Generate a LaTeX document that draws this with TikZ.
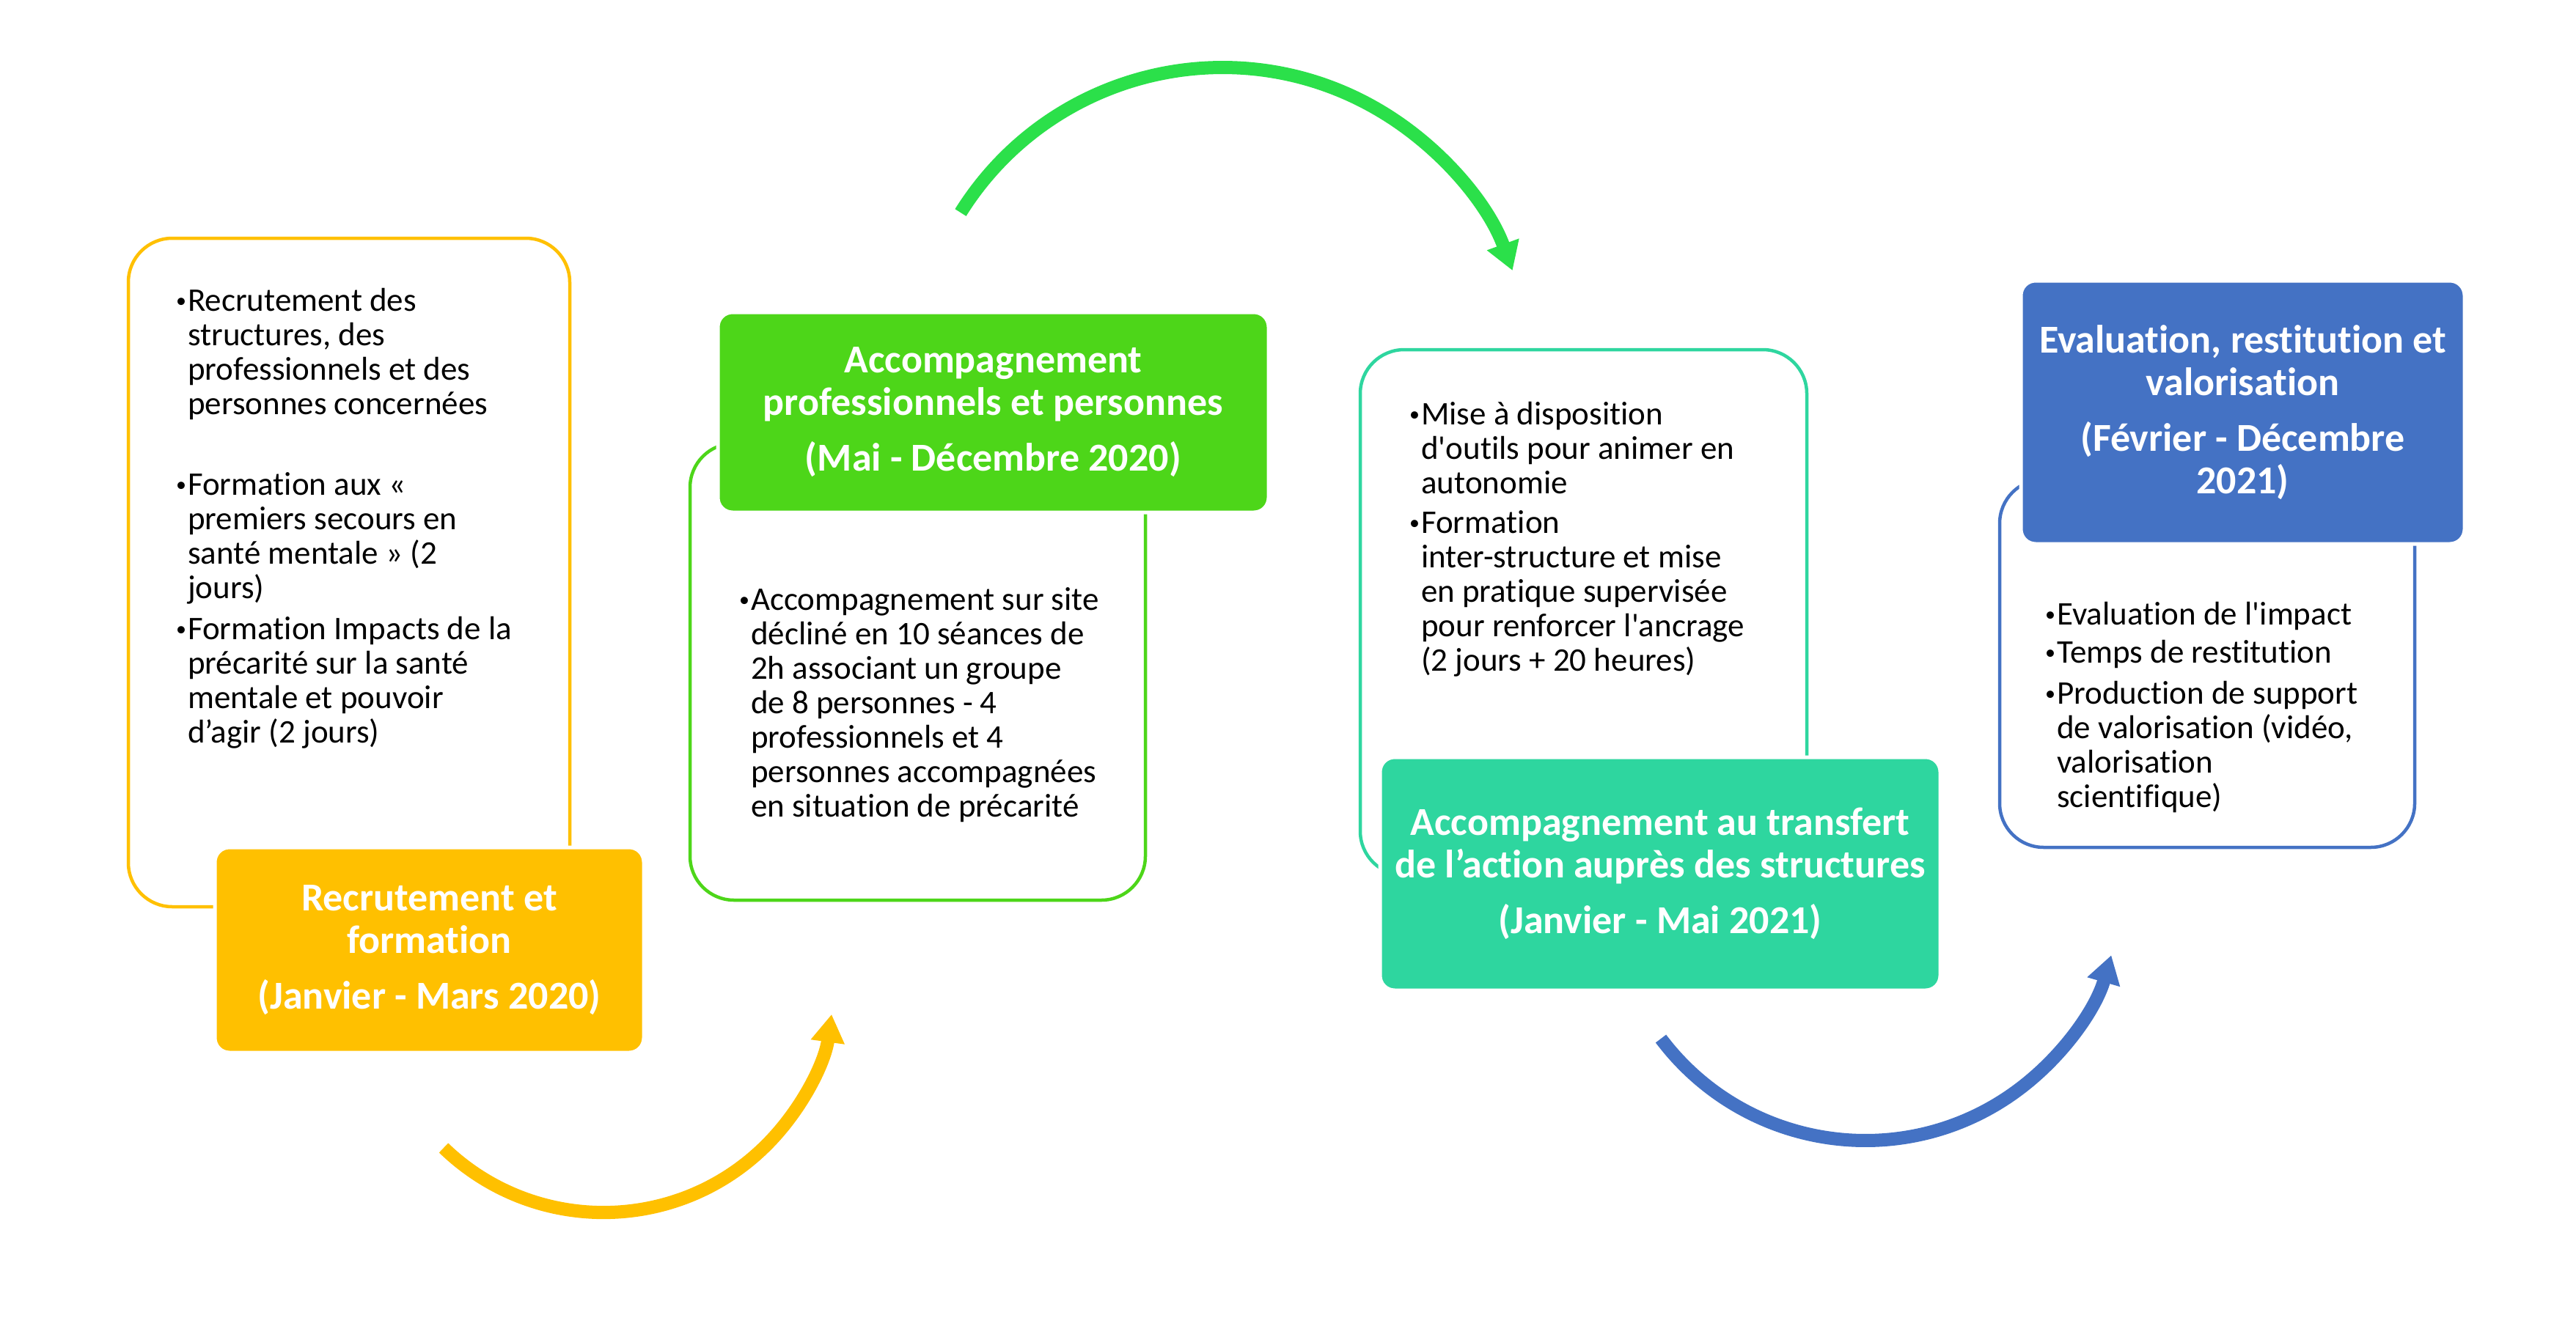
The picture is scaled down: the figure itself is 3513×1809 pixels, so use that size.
\documentclass[tikz,border=0pt]{standalone}
\usepackage{fontspec}
\setmainfont{Carlito}[Ligatures={TeXOff,NoCommon}]
\usetikzlibrary{arrows.meta}
\definecolor{cyel}{HTML}{FFC000}
\definecolor{cgrn}{HTML}{4DD619}
\definecolor{carr}{HTML}{2BE04A}
\definecolor{ctea}{HTML}{2ED69F}
\definecolor{cblu}{HTML}{4472C4}
\newcommand\bul{\raisebox{5pt}{\fontsize{28}{28}\selectfont•}\hspace{2pt}}
\newcommand\ind{\hphantom{\bul}}
\begin{document}
\begin{tikzpicture}[x=1pt,y=1pt,
  outbox/.style={draw=#1, line width=4.5pt, rounded corners=60pt, fill=white, inner sep=0pt},
  fillbox/.style={fill=#1, draw=white, line width=5pt, rounded corners=20pt, text=white,
    font=\fontsize{54}{58}\selectfont\bfseries, align=center, inner sep=0pt},
  bodytext/.style={anchor=north west, inner sep=0pt, align=left,
    font=\fontsize{45}{47}\selectfont, text=black},
  flow/.style={draw=#1, line width=18pt, -{Triangle[width=44pt,length=38pt]}}
]
\fill[white] (0,0) rectangle (3513,-1809);
\useasboundingbox (0,0) rectangle (3513,-1809);

% outline boxes
\node[outbox=cyel, minimum width=602pt, minimum height=912pt] (yo) at (476,-781) {};
\node[outbox=cgrn, minimum width=621pt, minimum height=623pt] (go) at (1251.5,-916.5) {};
\node[outbox=ctea, minimum width=609pt, minimum height=717pt] (to) at (2159.5,-835.5) {};
\node[outbox=cblu, minimum width=566pt, minimum height=502pt] (bo) at (3010,-905) {};

% body texts
\node[bodytext] (ytx) at (240,-393) {\bul Recrutement des\\
\ind structures, des\\
\ind professionnels et des\\
\ind personnes concernées\\[63pt]
\bul Formation aux «\\
\ind premiers secours en\\
\ind santé mentale » (2\\
\ind jours)\\[9pt]
\bul Formation Impacts de la\\
\ind précarité sur la santé\\
\ind mentale et pouvoir\\
\ind d’agir (2 jours)};

\node[bodytext] (gtx) at (1008,-801) {\bul Accompagnement sur site\\
\ind décliné en 10 séances de\\
\ind 2h associant un groupe\\
\ind de 8 personnes - 4\\
\ind professionnels et 4\\
\ind personnes accompagnées\\
\ind en situation de précarité};

\node[bodytext] (ttx) at (1922,-548) {\bul Mise à disposition\\
\ind d'outils pour animer en\\
\ind autonomie\\[7pt]
\bul Formation\\
\ind inter-structure et mise\\
\ind en pratique supervisée\\
\ind pour renforcer l'ancrage\\
\ind (2 jours + 20 heures)};

\node[bodytext] (btx) at (2789,-821) {\bul Evaluation de l'impact\\[5pt]
\bul Temps de restitution\\[9pt]
\bul Production de support\\
\ind de valorisation (vidéo,\\
\ind valorisation\\
\ind scientifique)};

% filled title boxes
\node[fillbox=cyel, minimum width=585pt, minimum height=280pt] (y1) at (585.5,-1296)
  {Recrutement et\\formation\\[18pt](Janvier - Mars 2020)};
\node[fillbox=cgrn, minimum width=751pt, minimum height=273pt] (g1) at (1354.5,-562.5)
  {Accompagnement\\professionnels et personnes\\[18pt](Mai - Décembre 2020)};
\node[fillbox=ctea, minimum width=764pt, minimum height=318pt] (t1) at (2264,-1192)
  {Accompagnement au transfert\\de l’action auprès des structures\\[18pt](Janvier - Mai 2021)};
\node[fillbox=cblu, minimum width=605pt, minimum height=359pt] (b1) at (3058.5,-562.5)
  {Evaluation, restitution et\\valorisation\\[18pt](Février - Décembre\\2021)};

% curved arrows
\coordinate (yarr) at (605,-1566);
\coordinate (garr) at (1310,-290);
\coordinate (barr) at (2265,-1417);
\draw[flow=cyel] (yarr) arc[start angle=226, end angle=352, radius=314];
\draw[flow=carr] (garr) arc[start angle=148, end angle=20, radius=421];
\draw[flow=cblu] (barr) arc[start angle=217, end angle=344, radius=349];
\end{tikzpicture}
\end{document}
